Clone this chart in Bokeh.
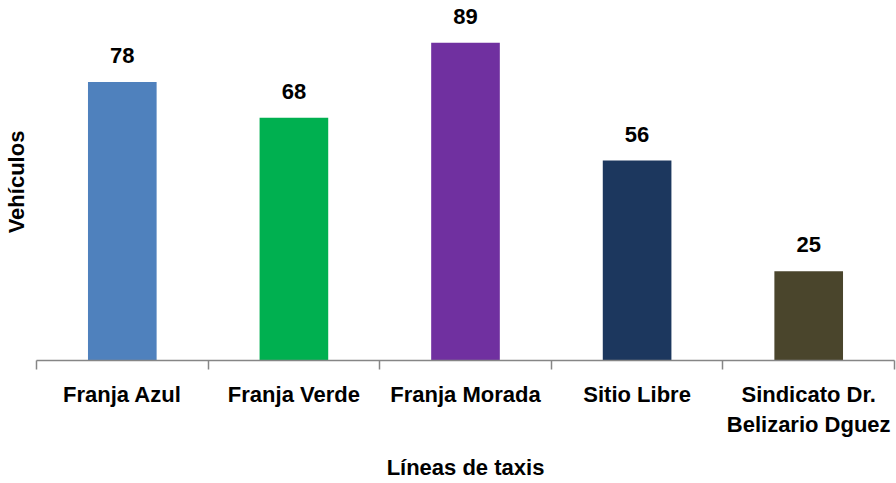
from bokeh.plotting import figure
from bokeh.models import (ColumnDataSource, Range1d, LinearAxis, FixedTicker)
from bokeh.core.properties import value
from bokeh.embed import file_html
from bokeh.resources import INLINE

categories = ["Franja Azul", "Franja Verde", "Franja Morada", "Sitio Libre",
              "Sindicato Dr.\nBelizario Dguez"]
values = [78, 68, 89, 56, 25]
colors = ["#4F81BD", "#00B050", "#7030A0", "#1C375E", "#4A452C"]

FONT = "Liberation Sans"
FS = "22px"

n = len(categories)
centers = [i + 0.5 for i in range(n)]
boundaries = list(range(n + 1))

src = ColumnDataSource(dict(x=centers, val=values, col=colors,
                            lbl=[str(v) for v in values]))

p = figure(width=896, height=483, x_range=Range1d(0, n),
           y_range=Range1d(0, 100), output_backend="svg",
           toolbar_location=None, x_axis_location=None, y_axis_location=None,
           min_border_left=36, min_border_right=2, min_border_top=3,
           min_border_bottom=123)
p.outline_line_color = None
p.xgrid.grid_line_color = None
p.ygrid.grid_line_color = None
p.background_fill_color = "white"

p.vbar(x="x", top="val", width=0.4, fill_color="col", line_color=None, source=src)
p.text(x="x", y="val", text="lbl", y_offset=-19, text_align="center",
       text_baseline="bottom", text_font=value(FONT), text_font_style="bold",
       text_font_size=FS, text_color="black", source=src)

# axis with boundary ticks (no labels)
tick_axis = LinearAxis(ticker=FixedTicker(ticks=boundaries),
                       major_label_overrides={b: "" for b in boundaries})
tick_axis.axis_line_color = "#868686"
tick_axis.axis_line_width = 1.5
tick_axis.major_tick_line_color = "#868686"
tick_axis.major_tick_line_width = 1.5
tick_axis.major_tick_in = 0
tick_axis.major_tick_out = 9
tick_axis.minor_tick_line_color = None
tick_axis.major_label_standoff = 0
p.add_layout(tick_axis, "below")

# category labels at bar centres
cat_axis = LinearAxis(ticker=FixedTicker(ticks=centers),
                      major_label_overrides={c: lab for c, lab in zip(centers, categories)})
cat_axis.axis_line_color = None
cat_axis.major_tick_line_color = None
cat_axis.minor_tick_line_color = None
cat_axis.major_label_text_font = FONT
cat_axis.major_label_text_font_style = "bold"
cat_axis.major_label_text_font_size = FS
cat_axis.major_label_text_color = "black"
cat_axis.major_label_standoff = 6
cat_axis.axis_label = "Líneas de taxis"
cat_axis.axis_label_text_font = FONT
cat_axis.axis_label_text_font_style = "bold"
cat_axis.axis_label_text_font_size = FS
cat_axis.axis_label_text_color = "black"
cat_axis.axis_label_standoff = 15
p.add_layout(cat_axis, "below")

y_axis = LinearAxis(ticker=FixedTicker(ticks=[]))
y_axis.axis_line_color = None
y_axis.major_tick_line_color = None
y_axis.minor_tick_line_color = None
y_axis.major_label_standoff = 0
y_axis.axis_label = "Vehículos"
y_axis.axis_label_text_font = FONT
y_axis.axis_label_text_font_style = "bold"
y_axis.axis_label_text_font_size = FS
y_axis.axis_label_text_color = "black"
y_axis.axis_label_standoff = 8
p.add_layout(y_axis, "left")

open("out.html", "w").write(file_html(p, INLINE))
